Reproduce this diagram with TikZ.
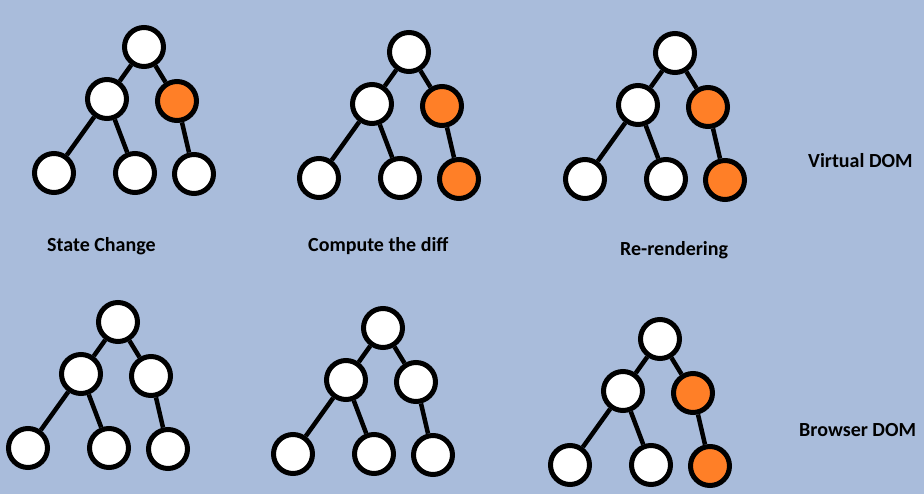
\documentclass[tikz,border=0pt]{standalone}
\usepackage{fontspec}
\setmainfont{Carlito}
\usepackage{tikz}

\definecolor{pagebg}{HTML}{A9BCDB}
\definecolor{changed}{HTML}{FF7F27}

\begin{document}
\begin{tikzpicture}[x=1pt,y=-1pt,
	dom/.style={circle, draw=black, line width=5pt, fill=white, minimum size=39pt, inner sep=0pt},
	link/.style={line width=4.5pt},
	caption/.style={anchor=base west, inner sep=0pt, font=\fontsize{20}{24}\selectfont\bfseries}]
	\fill[pagebg] (0,0) rectangle (924,494);
	\foreach \t/\x/\y/\ca/\cb in {t1/144/47/changed/white, t2/409/52/changed/changed, t3/675/53/changed/changed, t4/118/322/white/white, t5/383/328/white/white, t6/660/339/changed/changed}{
		\begin{scope}[shift={(\x,\y)}]
		\node[dom] (\t r) at (0,0) {};
		\node[dom] (\t l) at (-37,52) {};
		\node[dom, fill=\ca] (\t m) at (33,54) {};
		\node[dom] (\t p) at (-90,126) {};
		\node[dom] (\t q) at (-9,126) {};
		\node[dom, fill=\cb] (\t s) at (50,127) {};
		\draw[link] (\t r) -- (\t l) (\t r) -- (\t m) (\t l) -- (\t p) (\t l) -- (\t q) (\t m) -- (\t s);
		\end{scope}
	}
	\node[caption] (state) at (47,251.5) {State Change};
	\node[caption] (diff) at (308,251.5) {Compute the diff};
	\node[caption] (render) at (620,256) {Re-rendering};
	\node[caption] (virtual) at (808,167.5) {Virtual DOM};
	\node[caption] (browser) at (799,436.5) {Browser DOM};
\end{tikzpicture}
\end{document}
